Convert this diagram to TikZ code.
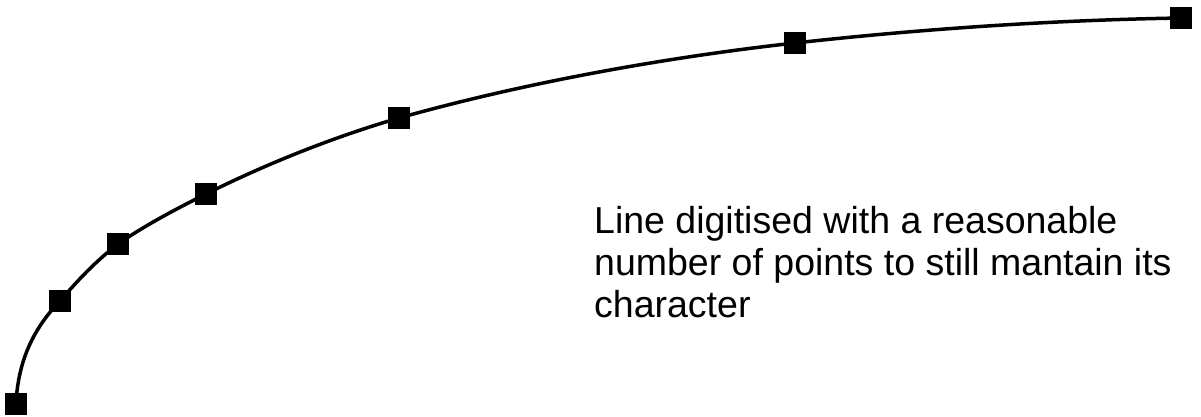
\documentclass[tikz,border=0pt]{standalone}
\usepackage{fontspec}
\setmainfont{Liberation Sans}
\usetikzlibrary{positioning}
\tikzset{
  mark box/.style={fill=black,minimum size=22pt,inner sep=0pt,outer sep=0pt},
  trace/.style={line width=3.5pt,black},
  note/.style={font=\fontsize{37.5}{42}\selectfont,align=left,inner sep=0pt,anchor=base west}
}
\begin{document}
\begin{tikzpicture}[x=1pt,y=-1pt]
  \useasboundingbox (0,0) rectangle (1201,417);
  % digitised points
  \coordinate (p1) at (16,404);
  \coordinate (p2) at (60,301);
  \coordinate (p3) at (118,244);
  \coordinate (p4) at (206,194);
  \coordinate (p5) at (399,118);
  \coordinate (p6) at (795,43);
  \coordinate (p7) at (1181,18);

  \draw[trace] (p1) .. controls (18,360) and (34,328) .. (p2)
    .. controls (78,280) and (96,261) .. (p3)
    .. controls (144,226) and (174,210) .. (p4)
    .. controls (262,166) and (330,138) .. (p5)
    .. controls (520,84) and (660,58) .. (p6)
    .. controls (930,28) and (1060,20) .. (p7);

  \foreach \i in {1,...,7}
    \node[mark box] (m\i) at (p\i) {};

  % base anchor sits on the last line
  \node[note] (caption) at (594,317)
    {Line digitised with a reasonable\\number of points to still mantain its\\character};
\end{tikzpicture}
\end{document}
